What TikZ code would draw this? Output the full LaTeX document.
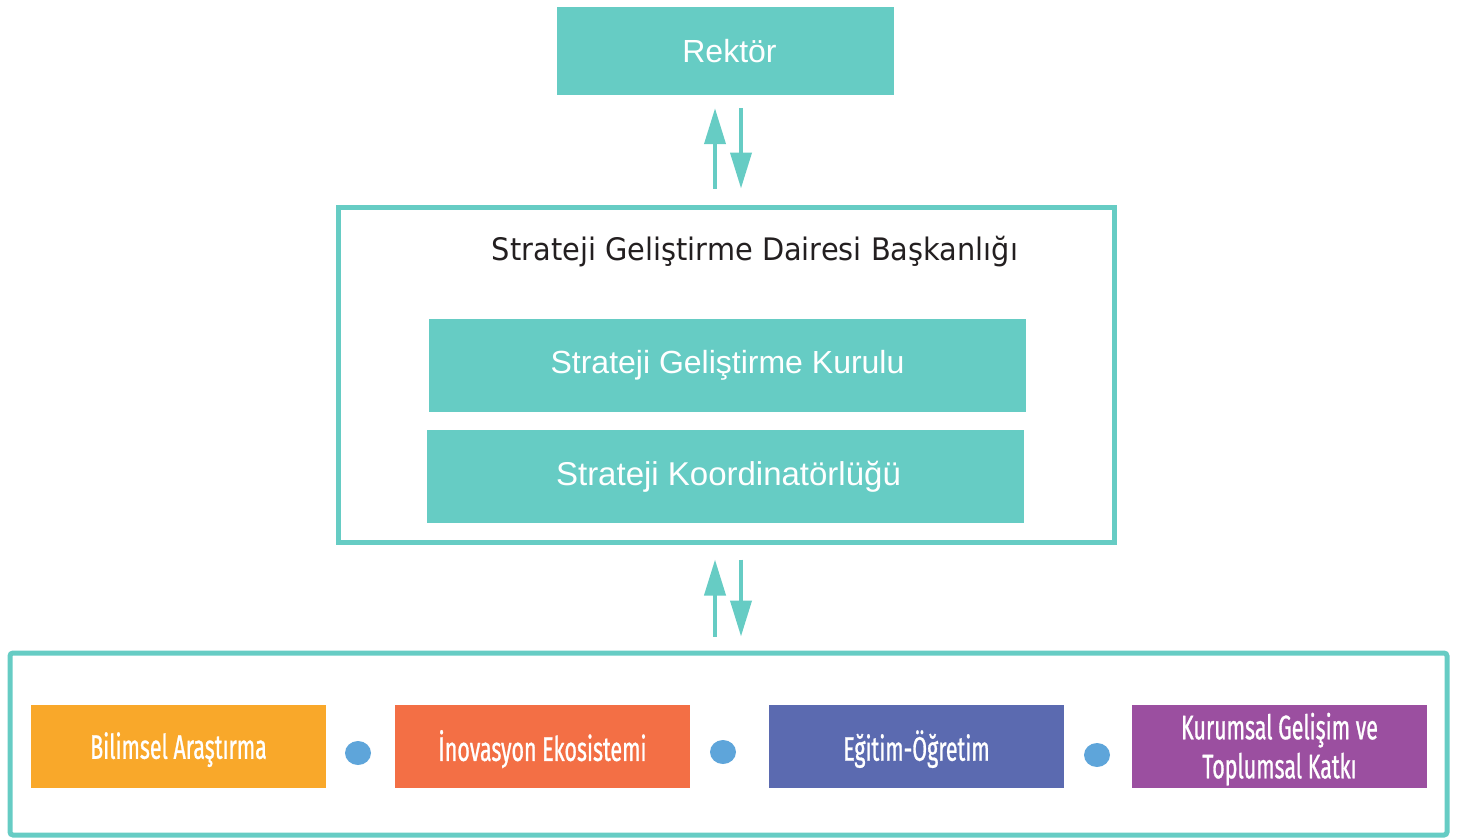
\documentclass[tikz,border=0pt]{standalone}
\usepackage{fontspec}
\setmainfont{Liberation Sans}
\newfontfamily\titlefont[FakeStretch=0.93]{DejaVu Sans}
\newfontfamily\condfont[FakeStretch=0.63,FakeBold=0.8]{Fira Sans}
\usetikzlibrary{arrows.meta,calc,shapes.geometric}
\definecolor{teal1}{RGB}{102,204,196}
\definecolor{orng}{RGB}{249,168,42}
\definecolor{redor}{RGB}{243,111,69}
\definecolor{indig}{RGB}{91,106,176}
\definecolor{purp}{RGB}{155,79,160}
\definecolor{dotb}{RGB}{94,165,218}
\definecolor{darktxt}{RGB}{35,31,32}
\tikzset{
  tealbox/.style={fill=teal1, draw=none, text=white, inner sep=0pt, font=\fontsize{32}{36}\selectfont},
  frame/.style={draw=teal1, line width=5pt, fill=none, inner sep=0pt},
  unitbox/.style={draw=none, text=white, inner sep=0pt, minimum width=295pt, minimum height=83pt, align=center, text depth=2pt, font=\condfont\fontsize{34}{39}\selectfont},
  dotn/.style={ellipse, fill=dotb, draw=none, minimum width=26pt, minimum height=24pt, inner sep=0pt},
  arr/.style={draw=teal1, line width=4pt, -{Triangle[width=21pt,length=36pt]}},
}
\begin{document}
\begin{tikzpicture}[x=1pt,y=-1pt]
\useasboundingbox (0,0) rectangle (1469,839);
\node[tealbox, minimum width=337pt, minimum height=88pt] (rektor) at (725.5,51) {\hspace*{8pt}Rektör};
\node[frame, minimum width=776pt, minimum height=335pt] (mid) at (726,374.5) {};
\node[text=darktxt, font=\titlefont\fontsize{31}{36}\selectfont, inner sep=0pt] (title) at (755,252) {Strateji Geliştirme Dairesi Başkanlığı};
\node[tealbox, minimum width=597pt, minimum height=93pt] (kurul) at (727.5,365.5) {Strateji Geliştirme Kurulu};
\node[tealbox, minimum width=597pt, minimum height=93pt] (koord) at (725.5,476.5) {\hspace*{6pt}\fontsize{33}{37}\selectfont Strateji Koordinatörlüğü};
\node[frame, minimum width=1437pt, minimum height=182pt, rounded corners=3pt] (bottom) at (728.5,744) {};
\node[unitbox, fill=orng] (b1) at (178.5,746.5) {Bilimsel Araştırma};
\node[unitbox, fill=redor] (b2) at (542.5,746.5) {İnovasyon Ekosistemi};
\node[unitbox, fill=indig] (b3) at (916.5,746.5) {Eğitim-Öğretim};
\node[unitbox, fill=purp] (b4) at (1279.5,746.5) {Kurumsal Gelişim ve\\[0pt]Toplumsal Katkı};
\node[dotn] (d1) at (358,753) {};
\node[dotn] (d2) at (723,752) {};
\node[dotn] (d3) at (1097,755) {};
% arrows between Rektor and middle frame
\draw[arr] ([xshift=-11pt,yshift=16pt]mid.north) -- ([xshift=-10.5pt,yshift=-13pt]rektor.south);
\draw[arr] ([xshift=15.5pt,yshift=-13pt]rektor.south) -- ([xshift=15pt,yshift=16pt]mid.north);
% arrows between middle frame and bottom frame
\draw[arr] ([xshift=-13.5pt,yshift=14pt]bottom.north) -- ([xshift=-11pt,yshift=-15pt]mid.south);
\draw[arr] ([xshift=15pt,yshift=-15pt]mid.south) -- ([xshift=12.5pt,yshift=14pt]bottom.north);
\end{tikzpicture}
\end{document}
